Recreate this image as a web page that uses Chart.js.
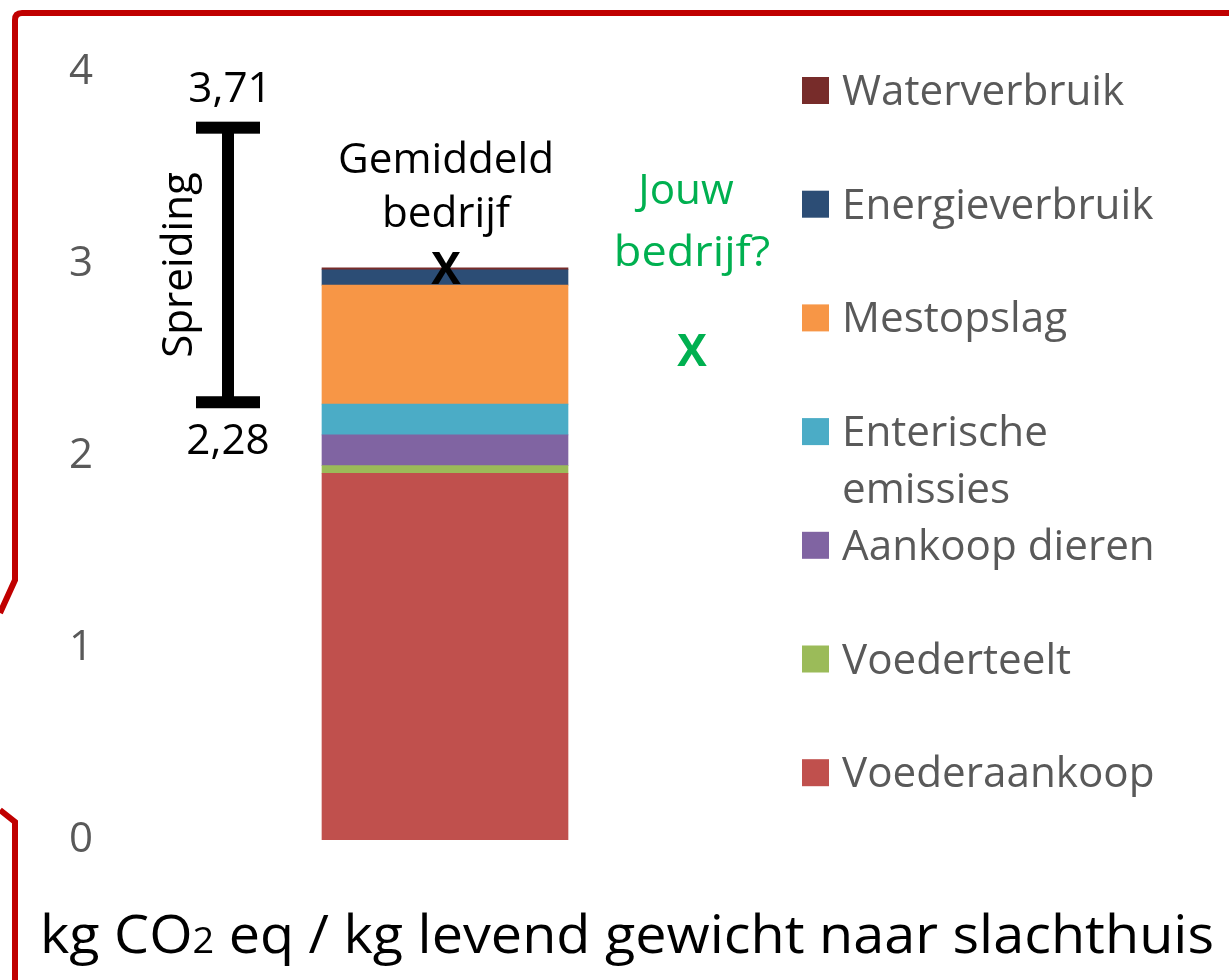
<!DOCTYPE html>
<html>
<head>
<meta charset="utf-8">
<script src="https://cdn.jsdelivr.net/npm/chart.js@4.4.1/dist/chart.umd.min.js"></script>
<style>
  html, body { margin: 0; padding: 0; background: #fff; }
  canvas { display: block; }
</style>
</head>
<body>
<canvas id="chart" width="1229" height="980"></canvas>
<script>
// data (bottom of the stack first)
const categories = ['Gemiddeld bedrijf'];
const seriesNames = ['Voederaankoop', 'Voederteelt', 'Aankoop dieren', 'Enterische emissies', 'Mestopslag', 'Energieverbruik', 'Waterverbruik'];
const seriesValues = [[1.91], [0.04], [0.16], [0.16], [0.62], [0.08], [0.01]];
const seriesColors = ['#C0504D', '#9BBB59', '#8064A2', '#4BACC6', '#F79646', '#2C4D75', '#772C2A'];
const yTicks = [0, 1, 2, 3, 4];
const spreadMin = 2.28;
const spreadMax = 3.71;
const yourMarker = 2.55;

const FONT = '"Open Sans", sans-serif';
const GREY = '#595959';
const GREEN = '#00B050';
let squeeze = 0.88;

function text(ctx, str, x, y, size, color, align, bold, k = 0.955) {
  ctx.save();
  ctx.font = (bold ? 'bold ' : '') + size + 'px ' + FONT;
  ctx.fillStyle = color;
  ctx.textBaseline = 'alphabetic';
  const sx = squeeze * k;
  const w = ctx.measureText(str).width * sx;
  let left = x;
  if (align === 'center') left = x - w / 2;
  if (align === 'right') left = x - w;
  ctx.translate(left, y);
  ctx.scale(sx, 1);
  ctx.fillText(str, 0, 0);
  ctx.restore();
  return w;
}

const decor = {
  id: 'decor',
  beforeDraw(chart) {
    const ctx = chart.ctx;
    ctx.save();
    ctx.fillStyle = '#fff';
    ctx.fillRect(0, 0, chart.width, chart.height);
    ctx.strokeStyle = '#C00000';
    ctx.lineWidth = 6;
    ctx.lineJoin = 'miter';
    ctx.beginPath();
    ctx.moveTo(0, 613);
    ctx.lineTo(15, 580);
    ctx.lineTo(15, 20);
    ctx.quadraticCurveTo(15, 13, 22, 13);
    ctx.lineTo(1229, 13);
    ctx.stroke();
    ctx.beginPath();
    ctx.moveTo(0, 810);
    ctx.lineTo(15, 822);
    ctx.lineTo(15, 980);
    ctx.stroke();
    ctx.restore();
  },
  afterDatasetsDraw(chart) {
    const ctx = chart.ctx;
    const y = chart.scales.y;
    const x = chart.scales.x;

    // squeeze factor so the axis title fits the width it has in the picture
    ctx.font = '53px ' + FONT;
    const part1 = 'kg CO', part3 = ' eq / kg levend gewicht naar slachthuis';
    let full = ctx.measureText(part1).width + ctx.measureText(part3).width;
    ctx.font = '36px ' + FONT;
    full += ctx.measureText('2').width;
    squeeze = 1174 / full;

    // axis title
    let cx = 40;
    cx += text(ctx, part1, cx, 953, 53, '#000', 'left', false, 1);
    cx += text(ctx, '2', cx, 953, 36, '#000', 'left', false, 1);
    text(ctx, part3, cx, 953, 53, '#000', 'left', false, 1);

    // spread whisker
    const ex = 228;
    const yTop = y.getPixelForValue(spreadMax);
    const yBot = y.getPixelForValue(spreadMin);
    ctx.save();
    ctx.fillStyle = '#000';
    ctx.fillRect(ex - 6, yTop, 12, yBot - yTop);
    ctx.fillRect(ex - 32, yTop - 6, 64, 12);
    ctx.fillRect(ex - 32, yBot - 6, 64, 12);
    ctx.restore();
    text(ctx, String(spreadMax).replace('.', ','), ex + 2, yTop - 26, 42, '#000', 'center');
    text(ctx, String(spreadMin).replace('.', ','), ex, yBot + 52, 42, '#000', 'center');

    ctx.save();
    ctx.translate(192, (yTop + yBot) / 2);
    ctx.rotate(-Math.PI / 2);
    text(ctx, 'Spreiding', 0, 0, 42, '#000', 'center');
    ctx.restore();

    // average marker
    const bx = x.getPixelForValue(0);
    const total = seriesValues.reduce((s, v) => s + v[0], 0);
    const ty = y.getPixelForValue(total);
    text(ctx, 'Gemiddeld', bx + 1, ty - 95, 42, '#000', 'center');
    text(ctx, 'bedrijf', bx + 1, ty - 41, 42, '#000', 'center');
    text(ctx, 'X', bx + 1, ty + 16, 44, '#000', 'center', true);

    // your company
    text(ctx, 'Jouw', 686, 204, 42, GREEN, 'center');
    text(ctx, 'bedrijf?', 692, 266, 42, GREEN, 'center', false, 1.02);
    text(ctx, 'X', 692, y.getPixelForValue(yourMarker) + 16, 44, GREEN, 'center', true);

    // legend, top item = last dataset
    const items = chart.data.datasets.slice().reverse();
    items.forEach((ds, i) => {
      const cy = 90 + i * 113.7;
      ctx.fillStyle = ds.backgroundColor;
      ctx.fillRect(802, cy - 13, 27, 27);
      ctx.font = '42px ' + FONT;
      let lines = [ds.label];
      if (ctx.measureText(ds.label).width * squeeze > 380) lines = ds.label.split(' ');
      lines.forEach((ln, j) => text(ctx, ln, 842, cy + 15 + j * 57, 42, GREY));
    });
  }
};

new Chart(document.getElementById('chart'), {
  type: 'bar',
  data: {
    labels: categories,
    datasets: seriesNames.map((name, i) => ({
      label: name,
      data: seriesValues[i],
      backgroundColor: seriesColors[i],
      borderWidth: 0,
      barThickness: 246
    }))
  },
  options: {
    responsive: false,
    devicePixelRatio: 1,
    animation: false,
    layout: { padding: { top: 72, bottom: 140, left: 60, right: 449 } },
    plugins: { legend: { display: false }, tooltip: { enabled: false } },
    scales: {
      x: { stacked: true, display: false },
      y: {
        stacked: true,
        min: yTicks[0],
        max: yTicks[yTicks.length - 1],
        afterFit: s => { s.width = 50; },
        afterBuildTicks: s => { s.ticks = yTicks.map(v => ({ value: v })); },
        grid: { display: false, drawTicks: false },
        border: { display: false },
        ticks: { color: GREY, padding: 17, font: { family: 'Open Sans', size: 42 } }
      }
    }
  },
  plugins: [decor]
});
</script>
</body>
</html>
